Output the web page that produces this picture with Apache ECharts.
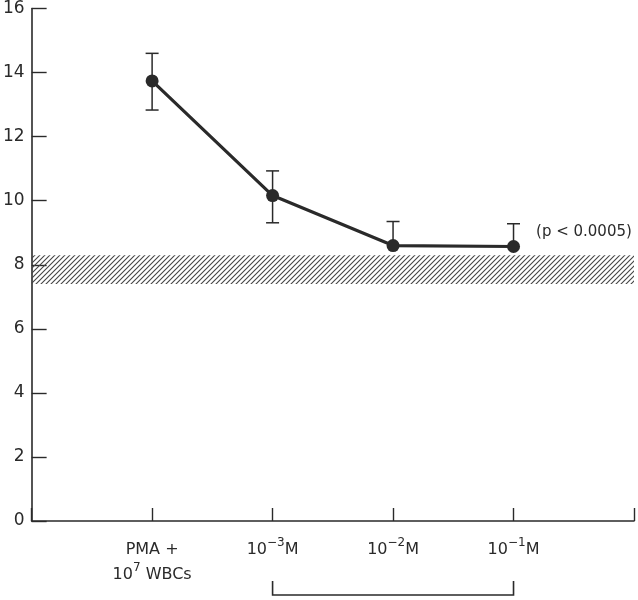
<!DOCTYPE html>
<html>
<head>
<meta charset="utf-8">
<script src="https://cdn.jsdelivr.net/npm/echarts@6/dist/echarts.min.js"></script>
<style>
html,body{margin:0;padding:0;background:#fff;}
#c{width:638px;height:600px;}
</style>
</head>
<body>
<div id="c"></div>
<script>
// ---- data ----
const positions = [1, 2, 3, 4];
const tickLabels = ['PMA +\n10{sup|7} WBCs', '10{sup|\u22123}M', '10{sup|\u22122}M', '10{sup|\u22121}M'];
const means = [13.74, 10.16, 8.60, 8.57];
const errHigh = [14.60, 10.93, 9.35, 9.28];
const errLow = [12.83, 9.31, 8.60, 8.57];
const controlBand = [7.4, 8.3];
const yTickValues = [0, 2, 4, 6, 8, 10, 12, 14, 16];
const bracketRange = [2, 4];
const pLabel = '(p < 0.0005)';

// hatch pattern
const pc = document.createElement('canvas');
pc.width = 5; pc.height = 5;
const g = pc.getContext('2d');
g.strokeStyle = '#444';
g.lineWidth = 1.1;
g.beginPath();
g.moveTo(-1, 6); g.lineTo(6, -1);
g.moveTo(-1, 1); g.lineTo(1, -1);
g.moveTo(4, 6); g.lineTo(6, 4);
g.stroke();

const ink = '#2a2a2a';
const font = 'DejaVu Sans, sans-serif';
const chart = echarts.init(document.getElementById('c'));

const lineData = positions.map((p, i) => [p, means[i]]);
const errData = positions.map((p, i) => [p, errLow[i], errHigh[i]]);

chart.setOption({
  animation: false,
  backgroundColor: '#ffffff',
  grid: { left: 28, right: 4, top: 7, bottom: 79 },
  xAxis: {
    type: 'value',
    min: 0, max: 5, interval: 1,
    axisLine: { lineStyle: { color: ink, width: 1.6 } },
    axisTick: { inside: true, length: 13, lineStyle: { color: ink, width: 1.4 } },
    splitLine: { show: false },
    axisLabel: {
      margin: 16,
      color: ink,
      fontFamily: font,
      fontSize: 16,
      lineHeight: 25,
      formatter: function (v) {
        const idx = positions.indexOf(v);
        return idx >= 0 ? tickLabels[idx] : '';
      },
      rich: {
        sup: { fontSize: 12, fontFamily: font, verticalAlign: 'top', padding: [0, 0, 8, 0], color: ink }
      }
    }
  },
  yAxis: {
    type: 'value',
    min: 0, max: 16, interval: 2,
    axisLine: { show: true, lineStyle: { color: ink, width: 1.6 } },
    axisTick: { show: true, inside: true, length: 15, lineStyle: { color: ink, width: 1.4 } },
    splitLine: { show: false },
    axisLabel: {
      margin: 7,
      color: ink,
      fontFamily: font,
      fontSize: 17,
      formatter: function (v) { return yTickValues.indexOf(v) >= 0 ? String(v) : ''; }
    }
  },
  series: [
    {
      type: 'line',
      data: lineData,
      z: 5,
      symbol: 'circle',
      symbolSize: 13,
      lineStyle: { color: ink, width: 3.2 },
      itemStyle: { color: ink },
      label: {
        show: true,
        position: 'right',
        offset: [11, -14],
        color: ink,
        fontFamily: font,
        fontSize: 15,
        formatter: function (p) { return p.dataIndex === positions.length - 1 ? pLabel : ''; }
      },
      markArea: {
        silent: true,
        itemStyle: { color: { image: pc, repeat: 'repeat' } },
        data: [[{ yAxis: controlBand[0] }, { yAxis: controlBand[1] }]]
      }
    },
    {
      type: 'custom',
      data: errData,
      z: 4,
      renderItem: function (params, api) {
        const x = api.value(0);
        const lo = api.coord([x, api.value(1)]);
        const hi = api.coord([x, api.value(2)]);
        const w = 6.5;
        const style = { stroke: ink, lineWidth: 1.5, fill: null };
        const children = [
          { type: 'line', shape: { x1: hi[0], y1: hi[1], x2: lo[0], y2: lo[1] }, style: style },
          { type: 'line', shape: { x1: hi[0] - w, y1: hi[1], x2: hi[0] + w, y2: hi[1] }, style: style }
        ];
        if (api.value(1) !== means[params.dataIndex]) {
          children.push({ type: 'line', shape: { x1: lo[0] - w, y1: lo[1], x2: lo[0] + w, y2: lo[1] }, style: style });
        }
        return { type: 'group', children: children };
      }
    },
    {
      type: 'custom',
      data: [[bracketRange[0], bracketRange[1]]],
      clip: false,
      silent: true,
      renderItem: function (params, api) {
        const a = api.coord([api.value(0), 0]);
        const b = api.coord([api.value(1), 0]);
        const yb = a[1] + 74, yt = a[1] + 60;
        return {
          type: 'polyline',
          shape: { points: [[a[0], yt], [a[0], yb], [b[0], yb], [b[0], yt]] },
          style: { stroke: ink, lineWidth: 1.6, fill: null }
        };
      }
    }
  ]
});
</script>
</body>
</html>
